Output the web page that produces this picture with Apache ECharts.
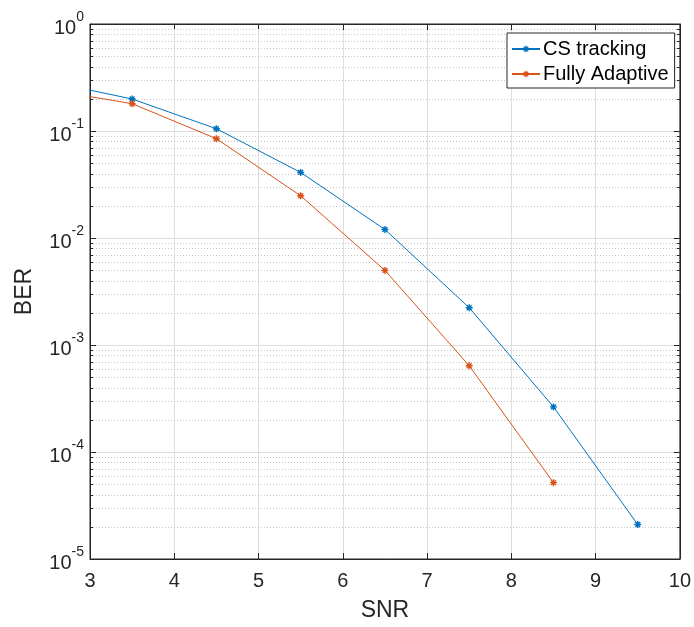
<!DOCTYPE html>
<html>
<head>
<meta charset="utf-8">
<script src="https://cdn.jsdelivr.net/npm/echarts@6/dist/echarts.min.js"></script>
<style>
html,body{margin:0;padding:0;background:#fff;}
#chart{width:694px;height:627px;}
</style>
</head>
<body>
<div id="chart"></div>
<script>
// ---- data ----
const snr = [2.5, 3.5, 4.5, 5.5, 6.5, 7.5, 8.5, 9.5];
const csTracking = [0.292, 0.199, 0.105, 0.041, 0.0120, 0.00223, 0.000264, 0.000021];
const fullyAdaptive = [0.244, 0.180, 0.0847, 0.0248, 0.00498, 0.00064, 0.0000517];
const seriesNames = ['CS tracking', 'Fully Adaptive'];
const xTicks = [3, 4, 5, 6, 7, 8, 9, 10];
const yDecades = [-5, -4, -3, -2, -1, 0];
const minorMultipliers = [2, 3, 4, 5, 6, 7, 8, 9];

// ---- derived ----
const minorVals = [];
for (let i = 0; i < yDecades.length - 1; i++) {
  for (const m of minorMultipliers) minorVals.push([xTicks[0], m * Math.pow(10, yDecades[i])]);
}
const pair = (xs, ys) => ys.map((y, i) => [xs[i], y]);

const FONT = '"Liberation Sans", Arial, Helvetica, sans-serif';
const AX = '#262626';
const GRID = '#dedede';
const MINOR = '#c4c4c4';
const BLUE = '#0072BD';
const ORANGE = '#D95319';
const STAR = 'path://M-1,-5 L1,-5 L1,5 L-1,5 Z M-5,-1 L5,-1 L5,1 L-5,1 Z M-4.2,-2.8 L-2.8,-4.2 L4.2,2.8 L2.8,4.2 Z M2.8,-4.2 L4.2,-2.8 L-2.8,4.2 L-4.2,2.8 Z';

const chart = echarts.init(document.getElementById('chart'), null, {renderer: 'canvas'});

const xBase = {
  type: 'value', min: xTicks[0], max: xTicks[xTicks.length - 1], interval: 1
};
const yBase = {
  type: 'log', logBase: 10,
  min: Math.pow(10, yDecades[0]), max: Math.pow(10, yDecades[yDecades.length - 1])
};

const option = {
  animation: false,
  backgroundColor: '#fff',
  textStyle: {fontFamily: FONT},
  grid: {
    left: 90, right: 11, top: 24, bottom: 68,
    show: true, borderColor: AX, borderWidth: 1, backgroundColor: '#fff'
  },
  legend: {
    data: seriesNames,
    orient: 'vertical',
    left: 507, top: 33,
    padding: [6, 6, 4, 4],
    itemGap: 5,
    itemWidth: 28, itemHeight: 8,
    backgroundColor: '#fff',
    borderColor: AX, borderWidth: 1,
    textStyle: {fontSize: 20, color: '#000', fontFamily: FONT, padding: [0, 0, 0, -2]}
  },
  xAxis: [
    Object.assign({}, xBase, {
      position: 'bottom',
      name: 'SNR', nameLocation: 'middle', nameGap: 40,
      nameTextStyle: {fontSize: 23, color: AX, fontFamily: FONT},
      axisLine: {show: true, lineStyle: {color: AX, width: 1}},
      axisTick: {show: true, inside: true, length: 6, lineStyle: {color: AX}},
      axisLabel: {show: true, fontSize: 20, color: AX, margin: 12, fontFamily: FONT},
      splitLine: {show: true, lineStyle: {color: GRID, width: 1}}
    }),
    Object.assign({}, xBase, {
      position: 'top',
      axisLine: {show: true, lineStyle: {color: AX, width: 1}},
      axisTick: {show: true, inside: true, length: 6, lineStyle: {color: AX}},
      axisLabel: {show: false},
      splitLine: {show: false}
    })
  ],
  yAxis: [
    Object.assign({}, yBase, {
      position: 'left',
      name: 'BER', nameLocation: 'middle', nameGap: 54,
      nameTextStyle: {fontSize: 23, color: AX, fontFamily: FONT},
      axisLine: {show: true, lineStyle: {color: AX, width: 1}},
      axisTick: {show: true, inside: true, length: 6, lineStyle: {color: AX}},
      axisLabel: {
        show: true, margin: 6, color: AX,
        formatter: v => '{b|10}{s|' + Math.round(Math.log10(v)) + '}',
        rich: {
          b: {fontSize: 20, color: AX, fontFamily: FONT, lineHeight: 28, verticalAlign: 'bottom'},
          s: {fontSize: 14, color: AX, fontFamily: FONT, lineHeight: 28, verticalAlign: 'top'}
        }
      },
      splitLine: {show: true, lineStyle: {color: GRID, width: 1}}
    }),
    Object.assign({}, yBase, {
      position: 'right',
      axisLine: {show: true, lineStyle: {color: AX, width: 1}},
      axisTick: {show: true, inside: true, length: 6, lineStyle: {color: AX}},
      axisLabel: {show: false},
      splitLine: {show: false}
    })
  ],
  series: [
    {
      name: '_minor',
      type: 'custom',
      xAxisIndex: 0, yAxisIndex: 0,
      silent: true, z: 1,
      clip: false,
      encode: {x: 0, y: 1},
      data: minorVals,
      renderItem: function (params, api) {
        const y = Math.round(api.coord([api.value(0), api.value(1)])[1]) + 0.5;
        const cs = params.coordSys;
        const x0 = cs.x, x1 = cs.x + cs.width;
        return {
          type: 'group',
          children: [
            {type: 'line', shape: {x1: x0, y1: y, x2: x1, y2: y},
             style: {stroke: MINOR, lineWidth: 1, lineDash: [1, 2]}, silent: true},
            {type: 'line', shape: {x1: x0, y1: y, x2: x0 + 3, y2: y},
             style: {stroke: AX, lineWidth: 1}, silent: true},
            {type: 'line', shape: {x1: x1 - 3, y1: y, x2: x1, y2: y},
             style: {stroke: AX, lineWidth: 1}, silent: true}
          ]
        };
      }
    },
    {
      name: seriesNames[0],
      type: 'line',
      data: pair(snr, csTracking),
      color: BLUE,
      symbol: STAR, symbolSize: 7, showSymbol: true,
      lineStyle: {width: 1, color: BLUE},
      itemStyle: {color: BLUE},
      clip: true, z: 3
    },
    {
      name: seriesNames[1],
      type: 'line',
      data: pair(snr, fullyAdaptive),
      color: ORANGE,
      symbol: STAR, symbolSize: 7, showSymbol: true,
      lineStyle: {width: 1, color: ORANGE},
      itemStyle: {color: ORANGE},
      clip: true, z: 3
    }
  ]
};
chart.setOption(option);
</script>
</body>
</html>
